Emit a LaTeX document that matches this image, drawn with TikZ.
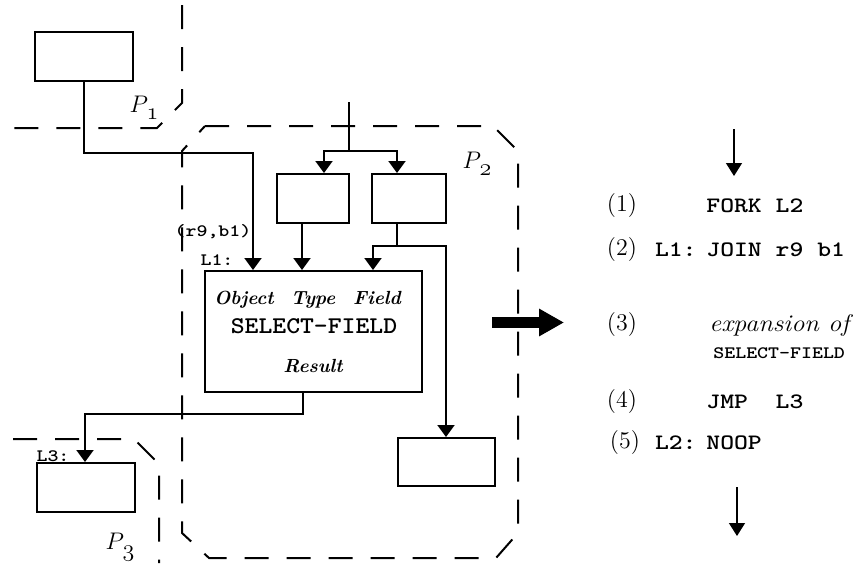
\documentclass[tikz,border=0pt]{standalone}
\usepackage{graphicx}
\usetikzlibrary{arrows.meta}
\newcommand{\codeL}[1]{\scalebox{1.2}[1]{\fontsize{11pt}{12pt}\selectfont\ttfamily\bfseries #1}}
\newcommand{\codeS}[1]{\scalebox{1.2}[1]{\fontsize{8.7pt}{10pt}\selectfont\ttfamily\bfseries #1}}
\newcommand{\codeT}[1]{\scalebox{1.1}[1]{\fontsize{12pt}{14pt}\selectfont\ttfamily\bfseries #1}}
\newcommand{\plabel}[1]{$P$\kern-0.8pt\raisebox{-3.5pt}{\fontsize{12pt}{12pt}\selectfont$\mathnormal{#1}$}}
\tikzset{
  blk/.style={draw, line width=1pt, inner sep=0pt},
  line/.style={line width=1pt},
  conn/.style={line width=1pt, -{Triangle[width=8.5pt,length=6pt]}},
  thinarr/.style={line width=0.7pt, -{Triangle[width=8pt,length=6.5pt]}},
  bnd/.style={line width=1pt, dash pattern=on 12pt off 9pt},
  lab/.style={inner sep=0pt},
  port/.style={inner sep=0pt, anchor=base, font=\fontsize{9.5pt}{11pt}\selectfont\bfseries\itshape},
  num/.style={inner sep=0pt, font=\fontsize{12pt}{13pt}\selectfont},
  plab/.style={inner sep=0pt, font=\fontsize{11.5pt}{13pt}\selectfont},
}
\begin{document}
\begin{tikzpicture}[x=0.5pt,y=-0.5pt]
\useasboundingbox (0,0) rectangle (859,569);

% boundaries
\draw[bnd] (182,5) -- (182,103) -- (157,128) -- (12,128);
\draw[bnd] (205,126) -- (493,126) -- (518,151) -- (518,533) -- (496,558) -- (209,558) -- (182,533) -- (182,151) -- cycle;
\draw[bnd] (13,439) -- (134,439) -- (159,464) -- (159,563);

\node[plab] (p1) at (144,108) {\plabel{1}};
\node[plab] (p2) at (477,164) {\plabel{2}};
\node[plab] (p3) at (120,547) {\plabel{3}};

% boxes
\node[blk, minimum width=49pt, minimum height=24.5pt] (boxA) at (84,56.5) {};
\node[blk, minimum width=36pt, minimum height=24.5pt] (boxB) at (313,198.5) {};
\node[blk, minimum width=37pt, minimum height=24.5pt] (boxC) at (409,198.5) {};
\node[blk, minimum width=108.5pt, minimum height=60.5pt] (sel) at (313.5,331.5) {};
\node[blk, minimum width=48.5pt, minimum height=24pt] (boxR) at (446.5,462) {};
\node[blk, minimum width=49pt, minimum height=24.5pt] (boxL) at (86,487.5) {};

% labels in select-field box
\node[port] (obj) at (244,304) {Object};
\node[port] (typ) at (313,304) {Type};
\node[port] (fld) at (377,304) {Field};
\node[lab, anchor=base] (selt) at (314,333) {\codeT{SELECT-FIELD}};
\node[port] (res) at (313,372) {Result};

% side labels
\node[lab] (rb) at (213,232) {\codeS{(r9,b1)}};
\node[lab] (l1) at (217,260) {\codeS{L1:}};
\node[lab] (l3) at (53,456) {\codeS{L3:}};

% connectors
\coordinate (j1) at (253,153);
\draw[conn] (boxA.south) |- (j1) -- (j1 |- sel.north);

\coordinate (src) at (349,102);
\coordinate (fk) at (349,151);
\draw[line] (src) -- (fk);
\draw[conn] (fk) -| (324,0 |- boxB.north);
\draw[conn] (fk) -| (397,0 |- boxC.north);

\draw[conn] (302,0 |- boxB.south) -- (302,0 |- sel.north);
\coordinate (sp) at (397,246);
\draw[line] (397,0 |- boxC.south) -- (sp);
\draw[conn] (sp) -| (373,0 |- sel.north);
\draw[conn] (sp) -| (446,0 |- boxR.north);

\coordinate (j3) at (303,414);
\draw[conn] (303,0 |- sel.south) -- (j3) -| (85,0 |- boxL.north);

% big arrow
\coordinate (ba) at (492,322.5);
\coordinate (bb) at (564,322.5);
\draw[line width=5.5pt, -{Triangle[width=13pt,length=12.5pt]}] (ba) -- (bb);

% right side code
\coordinate (ta) at (734,129);
\coordinate (tb) at (734,176);
\draw[thinarr] (ta) -- (tb);
\node[num] (n1) at (622,206) {(1)};
\node[num] (n2) at (622,250) {(2)};
\node[num] (n3) at (622,325) {(3)};
\node[num] (n4) at (622,402) {(4)};
\node[num] (n5) at (625,443) {(5)};
\node[lab, anchor=west] (c1) at (706,206) {\codeL{FORK L2}};
\node[lab, anchor=east] (c2l) at (697,250) {\codeL{L1:}};
\node[lab, anchor=west] (c2) at (706,250) {\codeL{JOIN r9 b1}};
\node[lab, anchor=west] (c3) at (709,325) {\scalebox{1.1}[1]{\fontsize{12pt}{14pt}\selectfont\itshape expansion of}};
\node[lab, anchor=west] (c3b) at (713,353) {\codeS{SELECT-FIELD}};
\node[lab, anchor=west] (c4) at (706,402) {\codeL{JMP\ \ L3}};
\node[lab, anchor=east] (c5l) at (697,443) {\codeL{L2:}};
\node[lab, anchor=west] (c5) at (706,443) {\codeL{NOOP}};
\coordinate (ua) at (737,487);
\coordinate (ub) at (737,536);
\draw[thinarr] (ua) -- (ub);
\end{tikzpicture}
\end{document}
